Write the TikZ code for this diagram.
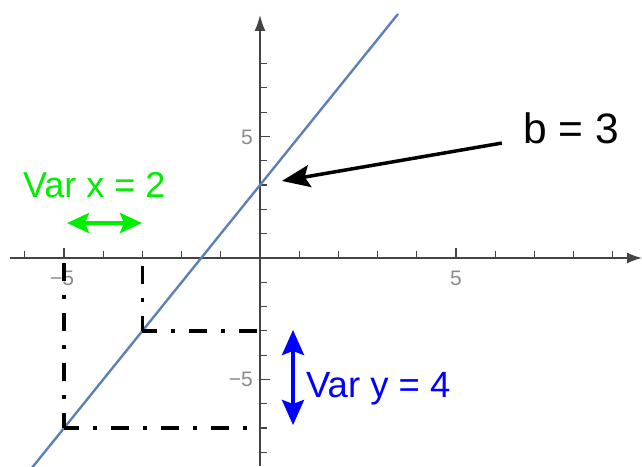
\documentclass[tikz,border=0pt]{standalone}
\usepackage{fontspec}
\setmainfont{Liberation Sans}
\usetikzlibrary{arrows.meta}
\definecolor{fitblue}{HTML}{5E81B5}
\definecolor{axgray}{HTML}{444444}
\definecolor{lblgray}{HTML}{8A8A8A}
\definecolor{vgreen}{HTML}{00EE00}
\definecolor{vblue}{HTML}{0000FF}
\begin{document}
\begin{tikzpicture}[x=39.2pt,y=24.3pt,
  axis/.style={draw=axgray,line width=1.6pt},
  tickmark/.style={draw=axgray,line width=1.2pt},
  lbl/.style={text=lblgray,font=\fontsize{21}{24}\selectfont,inner sep=0pt},
  dd/.style={line width=3.6pt,dash pattern=on 18pt off 14pt on 4pt off 14pt,dash phase=3pt},
  bigtxt/.style={inner sep=0pt,anchor=base west},
]
\useasboundingbox (-6.6327,-8.560) rectangle (9.7449,10.617);
% axes
\coordinate (xs) at (-6.38,0);
\coordinate (xe) at (9.745,0);
\coordinate (ys) at (0,-8.56);
\coordinate (ye) at (0,10.0);
\draw[axis,-{Latex[length=15pt,width=11pt]}] (xs) -- (xe);
\draw[axis,-{Latex[length=16pt,width=11pt]}] (ys) -- (ye);
% ticks
\foreach \i in {-6,-4,-3,-2,-1,1,2,3,4,6,7,8,9} \draw[tickmark] (\i,0) -- ++(0,7pt);
\foreach \i in {-5,5} \draw[tickmark] (\i,0) -- ++(0,10pt);
\foreach \j in {-8,-7,-6,-4,-3,-2,-1,1,2,3,4,6,7,8} \draw[tickmark] (0,\j) -- ++(7pt,0);
\foreach \j in {-5,5} \draw[tickmark] (0,\j) -- ++(10pt,0);
% tick labels
\node[lbl] (lx5) at (5,-0.82) {5};
\node[lbl] (lxm5) at (-5.05,-0.82) {−5};
\node[lbl,anchor=east] (ly5) at (-0.18,4.98) {5};
\node[lbl,anchor=east] (lym5) at (-0.18,-5) {−5};
% fitted line
\coordinate (fa) at (-5.85,-8.7);
\coordinate (fb) at (3.52,10.04);
\draw[fitblue,line width=2.4pt] (fa) -- (fb);
% dash-dot guides
\coordinate (c1) at (-3,-3);
\coordinate (c1x) at (-3,0);
\coordinate (c1y) at (0,-3);
\coordinate (c2) at (-5,-7);
\coordinate (c2x) at (-5,0);
\coordinate (c2y) at (0,-7);
\draw[dd] (c1) -- (c1x);
\draw[dd] (c1) -- (c1y);
\draw[dd] (c2) -- (c2x);
\draw[dd] (c2) -- (c2y);
% green
\coordinate (gl) at (-4.923,1.44);
\coordinate (gr) at (-3.010,1.44);
\draw[vgreen,line width=4pt,{Stealth[length=22pt,width=20pt,inset=4pt]}-{Stealth[length=22pt,width=20pt,inset=4pt]}] (gl) -- (gr);
\node[bigtxt,text=vgreen,font=\fontsize{36}{42}\selectfont] (vx) at (-6.05,2.47) {Var x = 2};
% blue
\coordinate (bt) at (0.842,-2.963);
\coordinate (bb) at (0.842,-6.872);
\draw[vblue,line width=3.5pt,{Stealth[length=25pt,width=22pt,inset=4pt]}-{Stealth[length=25pt,width=22pt,inset=4pt]}] (bt) -- (bb);
\node[bigtxt,text=vblue,font=\fontsize{36.5}{42}\selectfont] (vy) at (1.17,-5.76) {Var y = 4};
% b = 3
\node[bigtxt,font=\fontsize{42.5}{48}\selectfont] (b3) at (6.71,4.73) {b = 3};
\coordinate (bs) at (6.17,4.73);
\coordinate (btip) at (0.56,3.17);
\draw[black,line width=3.5pt,-{Stealth[length=28pt,width=22pt,inset=5pt]}] (bs) -- (btip);
\end{tikzpicture}
\end{document}
